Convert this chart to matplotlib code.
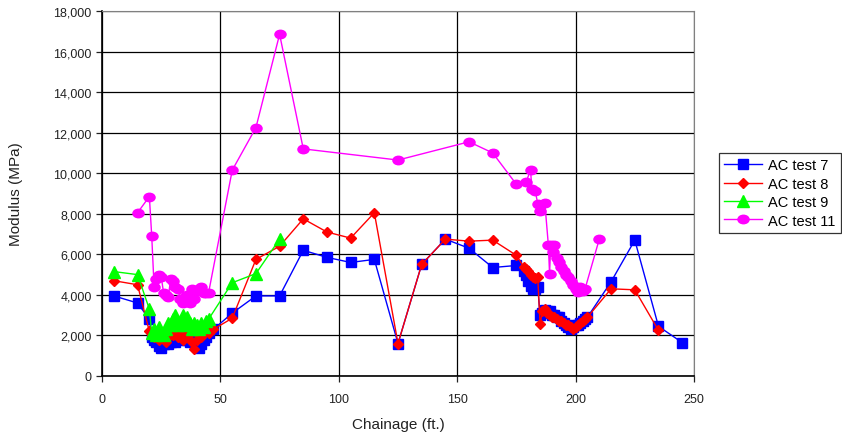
import matplotlib
matplotlib.use("Agg")
import matplotlib.pyplot as plt
from matplotlib.path import Path
from matplotlib.transforms import Affine2D
from matplotlib.ticker import FuncFormatter, MultipleLocator

plt.rcParams['font.family'] = ['Liberation Sans', 'DejaVu Sans']

# AC test 7
x7 = [5, 15, 20, 21, 22, 23, 24, 25, 26, 27, 28, 29, 30, 31, 32, 33, 34, 35, 36, 37,
      38, 39, 40, 41, 42, 43, 44, 45, 47, 55, 65, 75, 85, 95, 105, 115, 125, 135, 145,
      155, 165, 175, 178, 179, 180, 181, 182, 183, 184, 185, 186, 187, 188, 189, 190,
      191, 192, 193, 194, 195, 196, 197, 198, 199, 200, 201, 202, 203, 204, 205, 215,
      225, 235, 245]
y7 = [3950, 3600, 2800, 1900, 1800, 1700, 1500, 1400, 1600, 1700, 1600, 1700, 1800,
      1700, 1900, 1800, 2000, 1900, 1800, 1700, 1900, 1700, 1500, 1400, 1600, 1800,
      1900, 2100, 2300, 3100, 3950, 3950, 6200, 5850, 5600, 5750, 1600, 5500, 6750,
      6300, 5350, 5450, 5200, 5000, 4700, 4450, 4300, 4300, 4400, 3000, 3100, 3250,
      3200, 3200, 3000, 3000, 2900, 2900, 2700, 2600, 2500, 2400, 2300, 2400, 2500,
      2500, 2600, 2700, 2800, 2900, 4650, 6700, 2450, 1650]

# AC test 8
x8 = [5, 15, 20, 21, 22, 23, 24, 25, 26, 27, 28, 29, 30, 31, 32, 33, 34, 35, 36, 37,
      38, 39, 40, 41, 42, 43, 44, 45, 47, 55, 65, 75, 85, 95, 105, 115, 125, 135, 145,
      155, 165, 175, 178, 179, 180, 181, 182, 183, 184, 185, 186, 187, 188, 189, 190,
      191, 192, 193, 194, 195, 196, 197, 198, 199, 200, 201, 202, 203, 204, 205, 215,
      225, 235]
y8 = [4700, 4500, 2200, 2000, 1900, 2100, 1800, 1900, 2000, 1700, 1900, 2100, 2000,
      2200, 1900, 2100, 1800, 2000, 1900, 2100, 1700, 1350, 1800, 2000, 1900, 2100,
      2200, 2100, 2300, 2850, 5750, 6400, 7750, 7100, 6800, 8050, 1600, 5500, 6750,
      6650, 6700, 5950, 5400, 5300, 5200, 5000, 4900, 4850, 4900, 2550, 3200, 3300,
      3100, 3000, 2900, 2900, 2800, 2700, 2700, 2600, 2500, 2500, 2400, 2300, 2400,
      2500, 2600, 2700, 2800, 2900, 4300, 4250, 2250]

# AC test 9
x9 = [5, 15, 20, 21, 22, 23, 24, 25, 26, 27, 28, 29, 30, 31, 32, 33, 34, 35, 36, 37,
      38, 39, 40, 41, 42, 43, 44, 45, 55, 65, 75]
y9 = [5150, 5000, 3300, 2100, 2300, 2000, 2400, 2100, 2000, 2300, 2600, 2500, 2800,
      3000, 2500, 2600, 3000, 2500, 2900, 2600, 2300, 2600, 2500, 2300, 2600, 2400,
      2700, 2800, 4600, 5050, 6750]

# AC test 11
x11 = [15, 20, 21, 22, 23, 24, 25, 26, 27, 28, 29, 30, 31, 32, 33, 34, 35, 36, 37, 38,
       39, 40, 41, 42, 43, 44, 45, 55, 65, 75, 85, 125, 155, 165, 175, 179, 181, 181.5,
       183, 184, 185, 187, 188.5, 189, 189.5, 190.5, 191, 192, 193, 194, 195, 196, 197,
       198, 199, 200, 201, 202, 203, 204, 210]
y11 = [8050, 8850, 6900, 4400, 4800, 5000, 4900, 4100, 4000, 3900, 4800, 4700, 4400,
       4300, 3800, 3600, 3900, 4000, 3600, 4300, 3800, 4200, 4300, 4400, 4100, 4100,
       4100, 10150, 12250, 16850, 11200, 10650, 11550, 11000, 9450, 9550, 10150, 9200,
       9100, 8500, 8150, 8550, 6450, 5050, 6450, 6100, 6450, 5800, 5600, 5400, 5200,
       5000, 4900, 4700, 4500, 4300, 4150, 4400, 4200, 4300, 6750]

# wide ellipse marker like the excel one
ellipse = Path.unit_circle().transformed(Affine2D().scale(1.25, 0.95))

fig = plt.figure(figsize=(8.42, 4.39), dpi=100)
ax = fig.add_axes([102 / 842, 1 - 377 / 439, 592 / 842, 365 / 439])

ax.plot(x7, y7, color='#0000ff', lw=1, marker='s', ms=7, mec='#0000ff', label='AC test 7')
ax.plot(x8, y8, color='#ff0000', lw=1, marker='D', ms=5, mec='#ff0000', label='AC test 8')
ax.plot(x9, y9, color='#00ff00', lw=1, marker='^', ms=8, mec='#00ff00', label='AC test 9')
ax.plot(x11, y11, color='#ff00ff', lw=1, marker=ellipse, ms=8, mec='#ff00ff', label='AC test 11')

ax.set_xlim(0, 250)
ax.set_ylim(0, 18000)
ax.xaxis.set_major_locator(MultipleLocator(50))
ax.yaxis.set_major_locator(MultipleLocator(2000))
ax.yaxis.set_major_formatter(FuncFormatter(lambda v, p: f"{int(v):,}"))
ax.grid(True, color='black', lw=0.9)
ax.set_axisbelow(True)
ax.tick_params(direction='out', length=4, width=0.9, labelsize=9, colors='#222222')
ax.tick_params(axis='x', pad=8)
for s in ['top', 'right']:
    ax.spines[s].set_color('#808080')
for s in ['left', 'bottom']:
    ax.spines[s].set_color('black')
    ax.spines[s].set_linewidth(1.2)

ax.set_xlabel('Chainage (ft.)', fontsize=11, labelpad=9, color='#222222')
ax.set_ylabel('Modulus (MPa)', fontsize=11, labelpad=22, color='#222222')

leg = fig.legend(loc='upper left', bbox_to_anchor=(712 / 842, 1 - 147 / 439),
                 fontsize=10.5, frameon=True, fancybox=False, borderpad=0.35,
                 handlelength=2.6, labelspacing=0.3, handletextpad=0.4)
leg.get_frame().set_edgecolor('black')
leg.get_frame().set_linewidth(0.9)

fig.savefig('out.png', dpi=100)
